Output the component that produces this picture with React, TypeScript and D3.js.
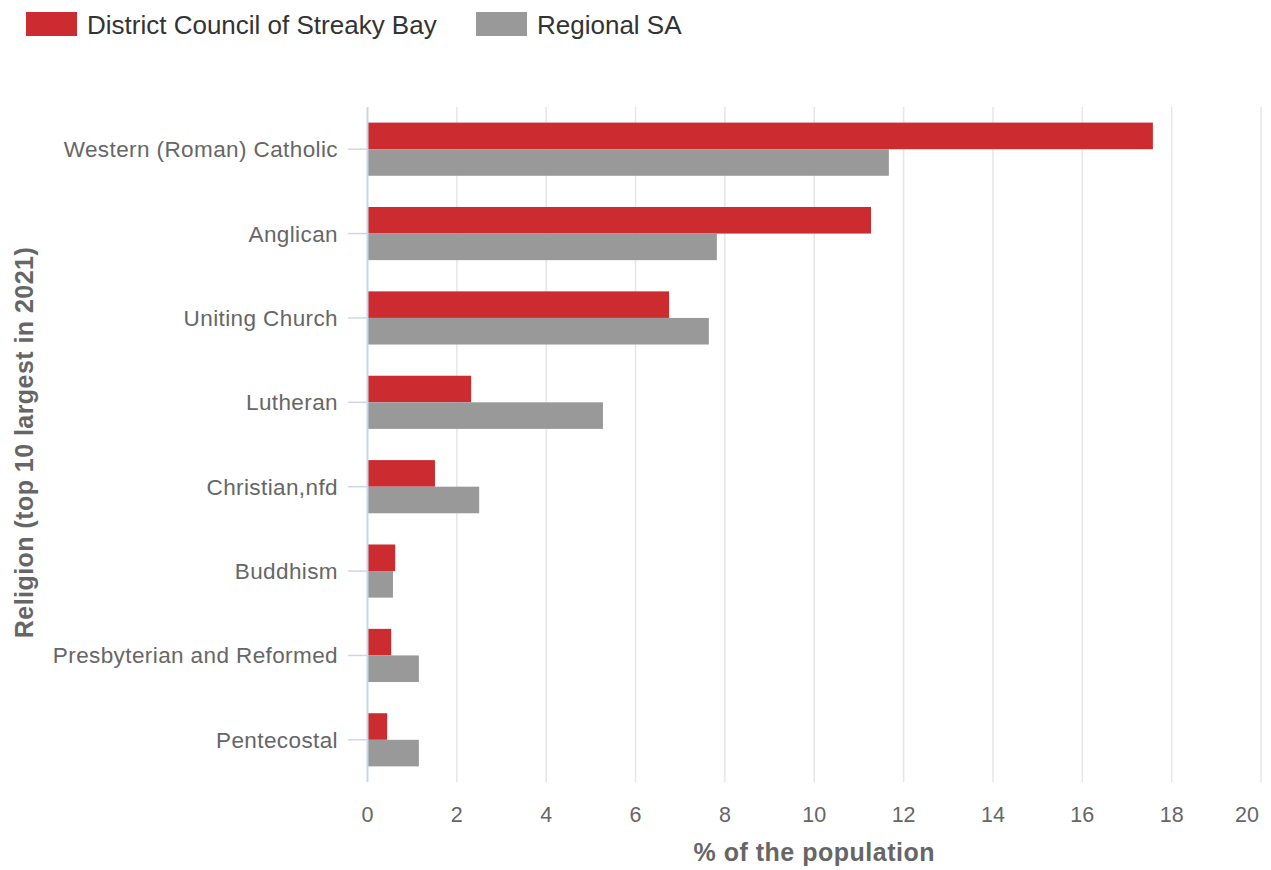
import React from "react";
import * as d3 from "d3";

const categories = [
  "Western (Roman) Catholic",
  "Anglican",
  "Uniting Church",
  "Lutheran",
  "Christian,nfd",
  "Buddhism",
  "Presbyterian and Reformed",
  "Pentecostal",
];
const districtValues = [17.58, 11.27, 6.75, 2.32, 1.51, 0.62, 0.53, 0.44];
const regionalValues = [11.67, 7.82, 7.64, 5.27, 2.5, 0.57, 1.15, 1.15];
const seriesNames = ["District Council of Streaky Bay", "Regional SA"];
const seriesColors = ["#cc2c30", "#999999"];
const xTicks = [0, 2, 4, 6, 8, 10, 12, 14, 16, 18, 20];

const W = 1271;
const H = 870;
const FONT = "'Liberation Sans', Arial, sans-serif";

export default function App() {
  const left = 367.5;
  const right = 1261;
  const top = 107;
  const bottom = 782;
  const x = d3.scaleLinear().domain([0, 20]).range([left, right]);
  const y = d3.scaleBand<string>().domain(categories).range([top, bottom]).padding(0);
  const bw = y.bandwidth();
  const groupW = bw * 0.63;
  const inner = d3
    .scaleBand<number>()
    .domain([0, 1])
    .range([(bw - groupW) / 2, (bw + groupW) / 2])
    .padding(0);
  const series = [districtValues, regionalValues];

  return (
    <svg
      width={W}
      height={H}
      style={{ position: "absolute", left: 0, top: 0, background: "#fff" }}
      fontFamily={FONT}
    >
      {/* legend */}
      <g>
        <rect x={26} y={12} width={51} height={24} fill={seriesColors[0]} />
        <text x={87} y={34} fontSize={26} fill="#333">{seriesNames[0]}</text>
        <rect x={476} y={12} width={51} height={24} fill={seriesColors[1]} />
        <text x={537} y={34} fontSize={26} fill="#333">{seriesNames[1]}</text>
      </g>
      {/* grid */}
      {xTicks.filter((t) => t > 0).map((t) => (
        <line key={t} x1={x(t)} x2={x(t)} y1={top} y2={bottom} stroke="#e6e6e6" strokeWidth={1.5} />
      ))}
      {/* bars */}
      {categories.map((c, i) => (
        <g key={c} transform={`translate(0,${y(c)})`}>
          {series.map((vals, s) => (
            <rect
              key={s}
              x={x(0)}
              y={inner(s)}
              width={x(vals[i]) - x(0)}
              height={inner.bandwidth()}
              fill={seriesColors[s]}
            />
          ))}
        </g>
      ))}
      {/* y axis line */}
      <line x1={left} x2={left} y1={top} y2={bottom} stroke="#ccd6eb" strokeWidth={2} />
      {/* y ticks + labels */}
      {categories.map((c) => {
        const cy = (y(c) as number) + bw / 2;
        return (
          <g key={c}>
            <line x1={348} x2={left} y1={cy} y2={cy} stroke="#ccd6eb" strokeWidth={1.5} />
            <text
              x={338}
              y={cy + 8}
              textAnchor="end"
              fontSize={22.5}
              letterSpacing={0.4}
              fill="#666"
            >
              {c}
            </text>
          </g>
        );
      })}
      {/* x tick labels */}
      {xTicks.map((t) => (
        <text
          key={t}
          x={t === 20 ? x(t) - 14 : x(t)}
          y={822}
          textAnchor="middle"
          fontSize={21.5}
          fill="#666"
        >
          {t}
        </text>
      ))}
      {/* axis titles */}
      <text
        x={(left + right) / 2}
        y={861}
        textAnchor="middle"
        fontSize={25}
        letterSpacing={0.5}
        fontWeight="bold"
        fill="#666"
      >
        % of the population
      </text>
      <text
        transform={`translate(33,${(top + bottom) / 2 - 2}) rotate(-90)`}
        textAnchor="middle"
        fontSize={25}
        letterSpacing={0.45}
        fontWeight="bold"
        fill="#666"
      >
        Religion (top 10 largest in 2021)
      </text>
    </svg>
  );
}
